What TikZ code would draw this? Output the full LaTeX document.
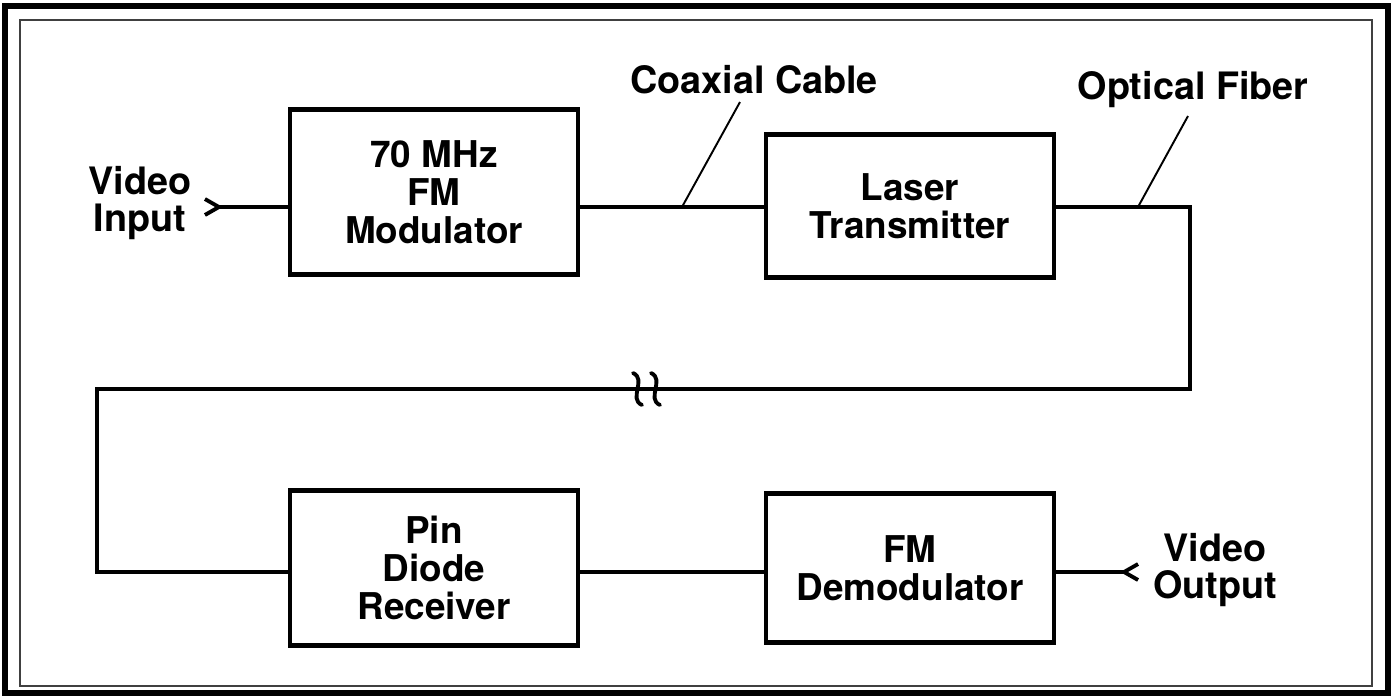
\documentclass[tikz,border=0pt]{standalone}
\usepackage{fontspec}
\setmainfont{TeX Gyre Heros}
\usetikzlibrary{arrows.meta,positioning}

\begin{document}
\begin{tikzpicture}[
  x=0.02cm, y=-0.02cm,
  box/.style={draw, line width=2.6pt, minimum width=5.76cm, align=center, font=\fontsize{21}{21.5}\selectfont\bfseries},
  wire/.style={line width=2.2pt},
  lead/.style={line width=1.1pt},
  label/.style={align=center, font=\fontsize{21.5}{21.5}\selectfont\bfseries},
  jack/.style={{Straight Barb[reversed,length=0.28cm,width=0.32cm]}-},
  frame/.style={line width=3pt}
]
\useasboundingbox (0,0) rectangle (1394,698);

% Frame
\draw[frame] (5,6) rectangle (1388,693);
\draw[line width=1.1pt, black!75] (20,20) rectangle (1372,686);

% Top row
\node[box, minimum height=3.3cm] (mod) at (434,192) {70 MHz\\FM\\Modulator};
\node[box, minimum height=2.86cm] (laser) at (910,206) {Laser\\Transmitter};

% Bottom row
\node[box, minimum height=3.1cm] (pin) at (434,568) {Pin\\Diode\\Receiver};
\node[box, minimum height=2.98cm] (demod) at (910,568) {FM\\Demodulator};

% Labels
\node[label] (vin) at (140,203) {Video\\Input};
\node[label] (vout) at (1215,570) {Video\\Output};
\node[label] (coax) at (754,80) {Coaxial Cable};
\node[label] (fiber) at (1193,90) {Optical Fiber};

% Jacks and corners
\coordinate (inend) at (203,207);
\coordinate (outend) at (1140,572);
\coordinate (c1) at (1190,207);
\coordinate (c2) at (1190,389);
\coordinate (c3) at (97,389);
\coordinate (c4) at (97,572);
\coordinate (brk) at (647,389);

% Signal path
\draw[wire, jack] (inend) -- (inend -| mod.west);
\draw[wire] (mod.east |- inend) -- (laser.west |- inend);
\draw[wire] (laser.east |- c1) -- (c1) -- (c2) -- (c3) -- (c4) -- (pin.west |- c4);
\draw[wire] (pin.east |- c4) -- (demod.west |- c4);
\draw[wire, jack] (outend) -- (outend -| demod.east);

% Break in the fiber
\draw[wire, line cap=round] ([shift={(-14,-16)}]brk) .. controls +(14,6) and +(-14,-6) .. ([shift={(-5,16)}]brk);
\draw[wire, line cap=round] ([shift={(4,-16)}]brk) .. controls +(14,6) and +(-14,-6) .. ([shift={(13,16)}]brk);

% Leaders
\coordinate (coaxpt) at (682,207);
\coordinate (fiberpt) at (1138,207);
\draw[lead] (coaxpt) -- (740,102);
\draw[lead] (fiberpt) -- (1188,116);

\end{tikzpicture}
\end{document}
